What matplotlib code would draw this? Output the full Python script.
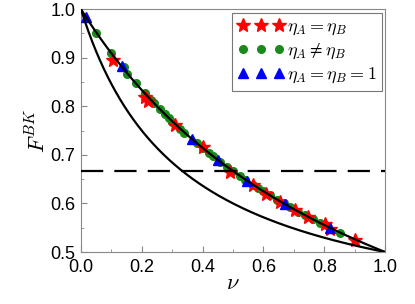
import matplotlib

matplotlib.use("Agg")
import matplotlib.pyplot as plt
import numpy as np
from matplotlib.ticker import MultipleLocator

plt.rcParams.update(
    {
        "font.family": ["Liberation Sans", "DejaVu Sans"],
        "mathtext.fontset": "cm",
        "font.size": 13,
    }
)

# red stars: eta_A = eta_B
star_nu = [0.106, 0.21, 0.22, 0.309, 0.402, 0.49, 0.567, 0.61, 0.655, 0.704, 0.748, 0.803, 0.82, 0.90]
star_f = [0.895, 0.819, 0.81, 0.761, 0.716, 0.665, 0.637, 0.62, 0.603, 0.586, 0.572, 0.557, 0.547, 0.524]

# green circles: eta_A != eta_B
circ_nu = [0.05, 0.10, 0.14, 0.15, 0.18, 0.21, 0.23, 0.24, 0.26, 0.276, 0.29, 0.30, 0.326, 0.34,
           0.38, 0.40, 0.42, 0.435, 0.457, 0.48, 0.50, 0.523, 0.54, 0.567, 0.583, 0.60, 0.62,
           0.644, 0.666, 0.687, 0.715, 0.737, 0.764, 0.786, 0.852]
circ_f = [0.951, 0.909, 0.88, 0.866, 0.847, 0.828, 0.813, 0.806, 0.794, 0.784, 0.775, 0.768, 0.754,
          0.746, 0.724, 0.714, 0.704, 0.697, 0.686, 0.676, 0.666, 0.656, 0.649, 0.638, 0.631,
          0.625, 0.617, 0.608, 0.6, 0.593, 0.583, 0.576, 0.567, 0.56, 0.54]

# blue triangles: eta_A = eta_B = 1
tri_nu = [0.016, 0.134, 0.364, 0.452, 0.545, 0.671, 0.82]
tri_f = [0.984, 0.882, 0.733, 0.689, 0.647, 0.599, 0.549]

# theory curves
nu = np.linspace(0, 1, 400)
upper = 1 / (1 + nu)
lower = (1 + nu) / (1 + 3 * nu)
threshold = 2 / 3

fig = plt.figure(figsize=(4.15, 3.04), dpi=100)
ax = fig.add_axes([0.195, 0.171, 0.733, 0.799])

ax.plot(nu, upper, color="black", lw=1.6, zorder=4)
ax.plot(nu, lower, color="black", lw=1.6, zorder=4)
ax.axhline(threshold, color="black", lw=1.6, dashes=(10, 5), zorder=4)

ax.plot(circ_nu, circ_f, "o", color="#1a8a1a", ms=5.5, ls="none", label=r"$\eta_A\neq\eta_B$", zorder=2)
ax.plot(star_nu, star_f, "*", color="red", ms=10, ls="none", label=r"$\eta_A=\eta_B$", zorder=3)
ax.plot(tri_nu, tri_f, "^", color="blue", ms=6.5, ls="none", label=r"$\eta_A=\eta_B=1$", zorder=3)

# legend order: stars, circles, triangles
handles, labels = ax.get_legend_handles_labels()
order = [1, 0, 2]
leg = ax.legend([handles[i] for i in order], [labels[i] for i in order], loc="upper right",
                numpoints=3, fontsize=13, handlelength=2.6, handletextpad=0.1,
                borderpad=0.3, labelspacing=0.25, fancybox=False, framealpha=1,
                borderaxespad=0.2)
leg.get_frame().set_edgecolor("#777777")
leg.get_frame().set_linewidth(0.8)

ax.set_xlim(0, 1)
ax.set_ylim(0.5, 1.0)
ax.xaxis.set_major_locator(MultipleLocator(0.2))
ax.xaxis.set_minor_locator(MultipleLocator(0.1))
ax.yaxis.set_major_locator(MultipleLocator(0.1))
ax.yaxis.set_minor_locator(MultipleLocator(0.05))
ax.tick_params(which="both", direction="in", color="#888888", labelsize=13)
ax.tick_params(which="major", length=4)
ax.tick_params(which="minor", length=2)
ax.tick_params(axis="x", pad=5)
ax.tick_params(axis="y", pad=4)
for s in ax.spines.values():
    s.set_color("#888888")

ax.set_xlabel(r"$\nu$", fontsize=16, labelpad=-2)
ax.set_ylabel(r"$F^{BK}$", fontsize=16, labelpad=0)

fig.savefig("out.png", dpi=100)
